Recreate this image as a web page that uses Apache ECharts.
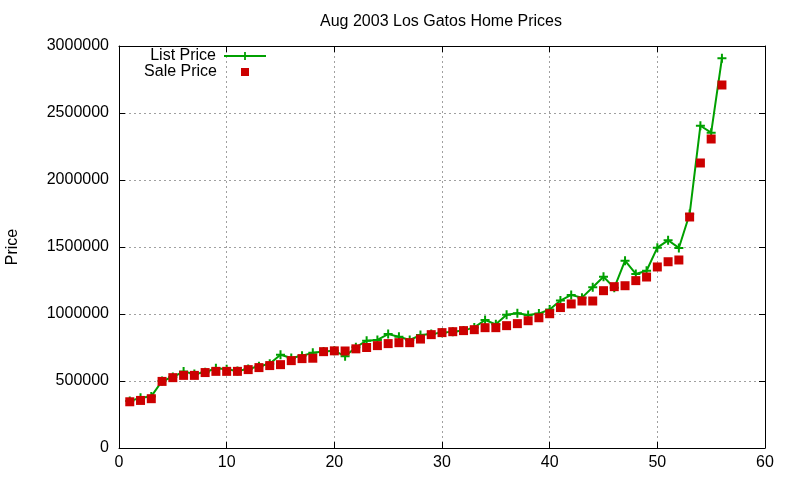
<!DOCTYPE html>
<html>
<head>
<meta charset="utf-8">
<script src="https://cdn.jsdelivr.net/npm/echarts@6/dist/echarts.min.js"></script>
<style>html,body{margin:0;padding:0;background:#fff}#c{width:800px;height:480px}</style>
</head>
<body>
<div id="c"></div>
<script>
var titleText = 'Aug 2003 Los Gatos Home Prices';
var yName = 'Price';
var seriesNames = ['List Price', 'Sale Price'];
var houseIndex = [1,2,3,4,5,6,7,8,9,10,11,12,13,14,15,16,17,18,19,20,21,22,23,24,25,26,27,28,29,30,31,32,33,34,35,36,37,38,39,40,41,42,43,44,45,46,47,48,49,50,51,52,53,54,55,56];
var listPrice = [350000,375000,385000,500000,530000,570000,552000,565000,595000,587000,
  575000,590000,610000,628000,696000,672000,688000,710000,720000,725000,
  685000,752000,801000,806000,850000,830000,806000,843000,850000,861000,
  868000,876000,900000,955000,923000,995000,1005000,993000,1003000,1034000,
  1100000,1142000,1122000,1199000,1278000,1195000,1398000,1299000,1323000,1495000,
  1550000,1493000,1746000,2405000,2353000,2908000];
var salePrice = [345000,355000,368000,497000,525000,542000,542000,563000,572000,572000,
  572000,585000,600000,615000,622000,652000,667000,670000,719000,725000,
  724000,740000,750000,764000,779000,786000,786000,813000,846000,861000,
  868000,876000,883000,898000,898000,913000,928000,950000,972000,1002000,
  1048000,1075000,1097000,1097000,1174000,1204000,1211000,1249000,1276000,1351000,
  1390000,1403000,1724000,2127000,2306000,2709000];
var xTicks = {min: 0, max: 60, interval: 10};
var yTicks = {min: 0, max: 3000000, interval: 500000};

var listData = houseIndex.map(function(x, i){ return [x, listPrice[i]]; });
var saleData = houseIndex.map(function(x, i){ return [x, salePrice[i]]; });

var FONT = 'Liberation Sans, Arial, sans-serif';
var plus = 'path://M-1,-4.5H1V-1H4.5V1H1V4.5H-1V1H-4.5V-1H-1Z';
var gridLine = {show: true, lineStyle: {color: '#a0a0a0', type: [2, 3], width: 1}};
var axisLine = {show: true, onZero: false, lineStyle: {color: '#000', width: 1}};
var tick = {show: true, inside: true, length: 6, lineStyle: {color: '#000'}};
var lbl = {color: '#000', fontFamily: FONT, fontSize: 16, formatter: function(v){ return String(v); }};

var chart = echarts.init(document.getElementById('c'), null, {renderer: 'canvas'});
chart.setOption({
  animation: false,
  backgroundColor: '#fff',
  title: {text: titleText, left: 436, top: 9, textAlign: 'center',
    textStyle: {color: '#000', fontFamily: FONT, fontSize: 16, fontWeight: 'normal'}},
  grid: {left: 119, right: 35, top: 46, bottom: 32, containLabel: false, outerBoundsMode: 'none'},
  legend: [
    {data: [seriesNames[0]], orient: 'vertical', align: 'right', right: 533, top: 48,
      itemWidth: 42, itemHeight: 10, padding: 0,
      textStyle: {color: '#000', fontFamily: FONT, fontSize: 16, padding: [0, 3, 0, 0]}},
    {data: [seriesNames[1]], orient: 'vertical', align: 'right', right: 551, top: 64,
      itemWidth: 8, itemHeight: 8, padding: 0,
      textStyle: {color: '#000', fontFamily: FONT, fontSize: 16, padding: [0, 19, 0, 0]}}
  ],
  xAxis: [
    {type: 'value', min: xTicks.min, max: xTicks.max, interval: xTicks.interval, position: 'bottom',
      axisLine: axisLine, axisTick: tick, splitLine: gridLine,
      axisLabel: Object.assign({margin: 7}, lbl)},
    {type: 'value', min: xTicks.min, max: xTicks.max, interval: xTicks.interval, position: 'top',
      axisLine: axisLine, axisTick: tick, splitLine: {show: false}, axisLabel: {show: false}}
  ],
  yAxis: [
    {type: 'value', min: yTicks.min, max: yTicks.max, interval: yTicks.interval, position: 'left',
      name: yName, nameLocation: 'middle', nameGap: 98, nameRotate: 90,
      nameTextStyle: {color: '#000', fontFamily: FONT, fontSize: 16},
      axisLine: axisLine, axisTick: tick, splitLine: gridLine,
      axisLabel: Object.assign({margin: 10}, lbl)},
    {type: 'value', min: yTicks.min, max: yTicks.max, interval: yTicks.interval, position: 'right',
      axisLine: axisLine, axisTick: tick, splitLine: {show: false}, axisLabel: {show: false}}
  ],
  series: [
    {name: seriesNames[0], type: 'line', data: listData, xAxisIndex: 0, yAxisIndex: 0,
      symbol: plus, symbolSize: 9, showAllSymbol: true,
      lineStyle: {color: '#00a000', width: 2}, itemStyle: {color: '#00a000', opacity: 1}, z: 2},
    {name: seriesNames[1], type: 'scatter', data: saleData, xAxisIndex: 0, yAxisIndex: 0,
      symbol: 'rect', symbolSize: 9, symbolKeepAspect: true,
      itemStyle: {color: '#cc0000', opacity: 1}, z: 3}
  ]
});
</script>
</body>
</html>
